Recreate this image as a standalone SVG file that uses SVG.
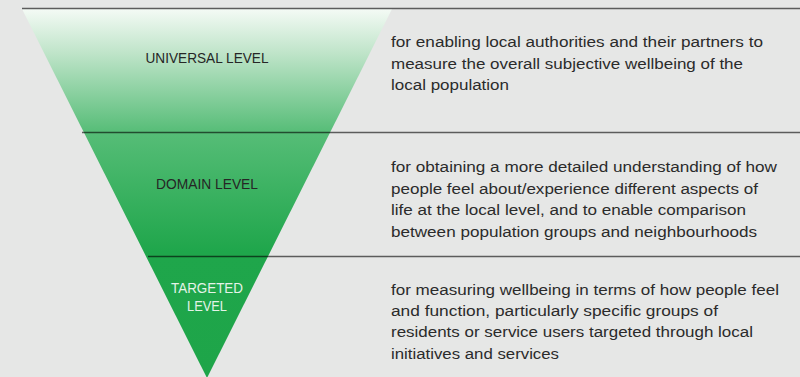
<svg xmlns="http://www.w3.org/2000/svg" width="800" height="377" viewBox="0 0 800 377">
  <defs>
    <linearGradient id="funnelFill" gradientUnits="userSpaceOnUse" x1="0" y1="9" x2="0" y2="377">
      <stop offset="0" stop-color="#f4faf5"/>
      <stop offset="0.12" stop-color="#bfe4c9"/>
      <stop offset="0.335" stop-color="#56bd77"/>
      <stop offset="0.66" stop-color="#1fa64b"/>
      <stop offset="1" stop-color="#1ea549"/>
    </linearGradient>
  </defs>
  <style>
    .label { font-family: "Liberation Sans", Arial, sans-serif; font-size: 14.6px; text-anchor: middle; fill: #262626; }
    .label.light { fill: #e4f3e8; }
    .desc { font-family: "Liberation Sans", Arial, sans-serif; font-size: 15.4px; fill: #2b2b2b; }
    .divider { stroke: #000; stroke-opacity: 0.6; stroke-width: 1.3; }
  </style>

  <rect width="800" height="377" fill="#e6e7e6"/>

  <!-- inverted funnel -->
  <polygon points="22,9 392,9 207,378" fill="url(#funnelFill)"/>

  <!-- level dividers -->
  <g id="dividers">
    <line class="divider" x1="22" y1="8.5" x2="800" y2="8.5" stroke-opacity="0.85"/>
    <line class="divider" x1="82" y1="132.5" x2="800" y2="132.5"/>
    <line class="divider" x1="148" y1="256.5" x2="800" y2="256.5"/>
  </g>

  <g id="universal">
    <text class="label" x="207" y="63" textLength="123" lengthAdjust="spacingAndGlyphs">UNIVERSAL LEVEL</text>
    <text class="desc" x="391" y="47" textLength="372" lengthAdjust="spacingAndGlyphs">for enabling local authorities and their partners to</text>
    <text class="desc" x="391" y="68.5" textLength="352" lengthAdjust="spacingAndGlyphs">measure the overall subjective wellbeing of the</text>
    <text class="desc" x="391" y="90" textLength="118" lengthAdjust="spacingAndGlyphs">local population</text>
  </g>

  <g id="domain">
    <text class="label" x="207" y="189" textLength="102" lengthAdjust="spacingAndGlyphs">DOMAIN LEVEL</text>
    <text class="desc" x="391" y="172" textLength="386" lengthAdjust="spacingAndGlyphs">for obtaining a more detailed understanding of how</text>
    <text class="desc" x="391" y="193.5" textLength="367" lengthAdjust="spacingAndGlyphs">people feel about/experience different aspects of</text>
    <text class="desc" x="391" y="215" textLength="355" lengthAdjust="spacingAndGlyphs">life at the local level, and to enable comparison</text>
    <text class="desc" x="391" y="236.5" textLength="366" lengthAdjust="spacingAndGlyphs">between population groups and neighbourhoods</text>
  </g>

  <g id="targeted">
    <text class="label light" x="207" y="293" textLength="72" lengthAdjust="spacingAndGlyphs">TARGETED</text>
    <text class="label light" x="207" y="311" textLength="40" lengthAdjust="spacingAndGlyphs">LEVEL</text>
    <text class="desc" x="391" y="294.5" textLength="388" lengthAdjust="spacingAndGlyphs">for measuring wellbeing in terms of how people feel</text>
    <text class="desc" x="391" y="315.5" textLength="327" lengthAdjust="spacingAndGlyphs">and function, particularly specific groups of</text>
    <text class="desc" x="391" y="337" textLength="362" lengthAdjust="spacingAndGlyphs">residents or service users targeted through local</text>
    <text class="desc" x="391" y="358.5" textLength="168" lengthAdjust="spacingAndGlyphs">initiatives and services</text>
  </g>
</svg>
